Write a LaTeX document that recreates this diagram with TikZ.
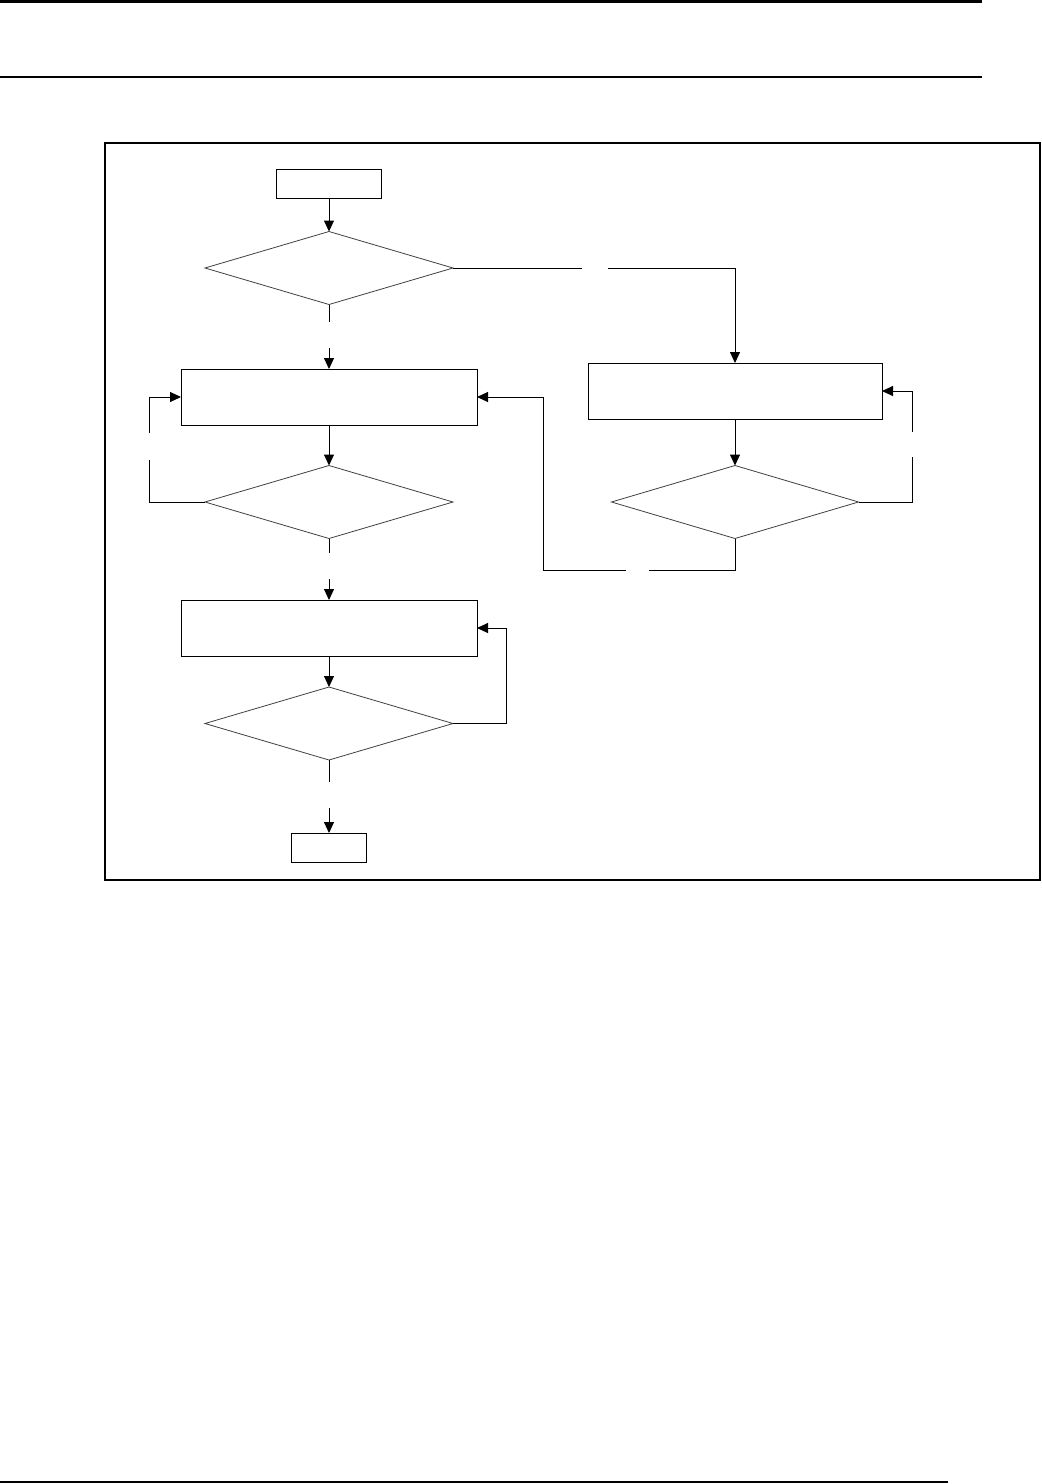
\documentclass[tikz,border=0pt]{standalone}
\usetikzlibrary{arrows.meta,shapes.geometric}
\begin{document}
\begin{tikzpicture}[x=1pt,y=-1pt,
  box/.style={draw,line width=0.9pt,inner sep=0pt,outer sep=0pt},
  dia/.style={draw,diamond,line width=0.8pt,draw=black!75,inner sep=0pt,outer sep=0pt,minimum width=248pt,minimum height=73pt},
  con/.style={line width=1pt},
  arr/.style={con,-{Triangle[length=11pt,width=10pt]}},
  rule/.style={line width=2.8pt}]
\useasboundingbox (0,0) rectangle (1042,1484);
% page rules
\draw[rule] (0,1.4) -- (982,1.4);
\draw[rule] (0,77) -- (982,77);
\draw[rule] (0,1482) -- (948,1482);
% frame
\draw[line width=1.3pt] (105,143) rectangle (1040,880);
% nodes
\node[box,minimum width=105pt,minimum height=29pt] (start) at (329,183.5) {};
\node[dia] (d1) at (329,268) {};
\node[box,minimum width=296pt,minimum height=56pt] (A) at (329,397) {};
\node[dia] (d2) at (329,502) {};
\node[box,minimum width=296pt,minimum height=56pt] (B) at (329,628) {};
\node[dia] (d3) at (329,723.5) {};
\node[box,minimum width=75pt,minimum height=29pt] (end) at (329,847.5) {};
\node[box,minimum width=294pt,minimum height=56pt] (C) at (735,391) {};
\node[dia,minimum width=247pt] (d4) at (735,502) {};
% gap coordinates
\coordinate (g1a) at (329,322);
\coordinate (g1b) at (329,348);
\coordinate (g2a) at (582,268);
\coordinate (g2b) at (608,268);
\coordinate (g3a) at (149,460);
\coordinate (g3b) at (149,433);
\coordinate (g4a) at (329,553);
\coordinate (g4b) at (329,579);
\coordinate (g5a) at (329,782);
\coordinate (g5b) at (329,808);
\coordinate (g6a) at (912,457);
\coordinate (g6b) at (912,432);
\coordinate (g7a) at (649,570);
\coordinate (g7b) at (626,570);
% connectors
\draw[arr] (start) -- (d1.north);
\draw[con] (d1.south) -- (g1a);
\draw[arr] (g1b) -- (A.north);
\draw[con] (d1.east) -- (g2a);
\draw[arr] (g2b) -| (C.north);
\draw[arr] (A) -- (d2.north);
\draw[con] (d2.west) -| (g3a);
\draw[arr] (g3b) |- (A.west);
\draw[con] (d2.south) -- (g4a);
\draw[arr] (g4b) -- (B.north);
\draw[arr] (B) -- (d3.north);
\draw[arr] (d3.east) -- (506,723.5) |- (B.east);
\draw[con] (d3.south) -- (g5a);
\draw[arr] (g5b) -- (end.north);
\draw[arr] (C) -- (d4.north);
\draw[con] (d4.east) -| (g6a);
\draw[arr] (g6b) |- (C.east);
\draw[con] (d4.south) |- (g7a);
\draw[arr] (g7b) -- (543,570) |- (A.east);
\end{tikzpicture}
\end{document}
